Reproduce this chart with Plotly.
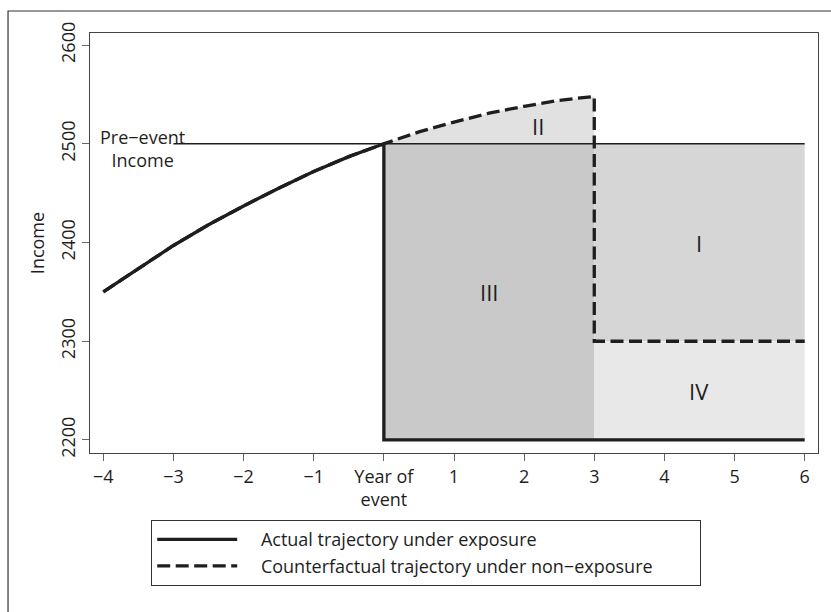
import plotly.graph_objects as go

# years relative to the event and income
curve_years = [-4, -3.5, -3, -2.5, -2, -1.5, -1, -0.5, 0]
curve_income = [2350, 2374, 2397, 2418, 2437, 2455, 2472, 2487, 2500]
cf_years = [0, 0.5, 1, 1.5, 2, 2.5, 3]
cf_income = [2500, 2512, 2522, 2531, 2538, 2544, 2548]

event_year = 0
recovery_year = 3
end_year = 6
pre_line_start = -3
pre_event_income = 2500
actual_after = 2200
counterfactual_after = 2300

region_labels = ['I', 'II', 'III', 'IV']
region_x = [4.5, 2.2, 1.5, 4.5]
region_y = [2400, 2518, 2350, 2250]

tick_vals = [-4, -3, -2, -1, 0, 1, 2, 3, 4, 5, 6]
tick_text = ['\u22124', '\u22123', '\u22122', '\u22121', 'Year of<br>event',
             '1', '2', '3', '4', '5', '6']

FONT = 'Open Sans'
INK = '#1e1e1e'
PAD = '\u00a0' * 4

fig = go.Figure()

def box(x0, x1, y0, y1, colour):
    fig.add_trace(go.Scatter(x=[x0, x1, x1, x0, x0], y=[y0, y0, y1, y1, y0],
                             mode='lines', fill='toself', fillcolor=colour,
                             line=dict(width=0), showlegend=False, hoverinfo='skip'))

# shaded regions
box(event_year, recovery_year, actual_after, pre_event_income, '#c9c9c9')
box(recovery_year, end_year, counterfactual_after, pre_event_income, '#d6d6d6')
box(recovery_year, end_year, actual_after, counterfactual_after, '#e8e8e8')
fig.add_trace(go.Scatter(x=cf_years + [recovery_year, event_year],
                         y=cf_income + [pre_event_income, pre_event_income],
                         mode='lines', fill='toself', fillcolor='#e1e1e1',
                         line=dict(width=0), showlegend=False, hoverinfo='skip'))

# pre-event income reference line
fig.add_trace(go.Scatter(x=[pre_line_start, end_year], y=[pre_event_income, pre_event_income],
                         mode='lines', line=dict(color=INK, width=1.6),
                         showlegend=False, hoverinfo='skip'))

# actual trajectory
fig.add_trace(go.Scatter(x=curve_years + [event_year, end_year],
                         y=curve_income + [actual_after, actual_after],
                         mode='lines', line=dict(color=INK, width=3.3),
                         name=PAD + 'Actual trajectory under exposure'))

# counterfactual trajectory
fig.add_trace(go.Scatter(x=curve_years + cf_years[1:] + [recovery_year, end_year],
                         y=curve_income + cf_income[1:] + [counterfactual_after, counterfactual_after],
                         mode='lines', line=dict(color=INK, width=3.3, dash='13px,5.5px'),
                         name=PAD + 'Counterfactual trajectory under non\u2212exposure' + '\u00a0' * 9))

for lab, x, y in zip(region_labels, region_x, region_y):
    fig.add_annotation(x=x, y=y, text=lab, showarrow=False,
                       font=dict(family=FONT, size=22, color=INK))

fig.add_annotation(x=-3.44, y=2495, text='Pre\u2212event<br>Income', showarrow=False,
                   font=dict(family=FONT, size=18, color=INK))

# outer graph frame
fig.add_shape(type='rect', xref='paper', yref='paper',
              x0=-0.1126, x1=1.5, y0=-1.0, y1=1.0524,
              line=dict(color='#333333', width=1.2))

fig.update_layout(
    width=831, height=612,
    margin=dict(l=90, r=13, t=33, b=159),
    paper_bgcolor='white', plot_bgcolor='white',
    font=dict(family=FONT, size=18, color=INK),
    showlegend=True,
    legend=dict(x=0.0838, y=-0.1595, xanchor='left', yanchor='top',
                bordercolor='#333333', borderwidth=1.2, bgcolor='white',
                itemwidth=80, font=dict(family=FONT, size=18, color=INK)),
    xaxis=dict(range=[-4.19, 6.19], tickvals=tick_vals, ticktext=tick_text,
               showgrid=False, zeroline=False, showline=True, mirror=True,
               linecolor='#444444', linewidth=1.2, ticks='outside', ticklen=7,
               tickcolor='#666666', tickfont=dict(size=18)),
    yaxis=dict(range=[2186.8, 2612.2], tickvals=[2200, 2300, 2400, 2500, 2600],
               tickangle=-90, showgrid=False, zeroline=False, showline=True, mirror=True,
               linecolor='#444444', linewidth=1.2, ticks='outside', ticklen=7,
               tickcolor='#666666', tickfont=dict(size=18),
               title=dict(text='Income', font=dict(size=18), standoff=6)),
)

fig.write_html('out.html', config={'displayModeBar': False},
               post_script="document.body.style.margin='0';")
